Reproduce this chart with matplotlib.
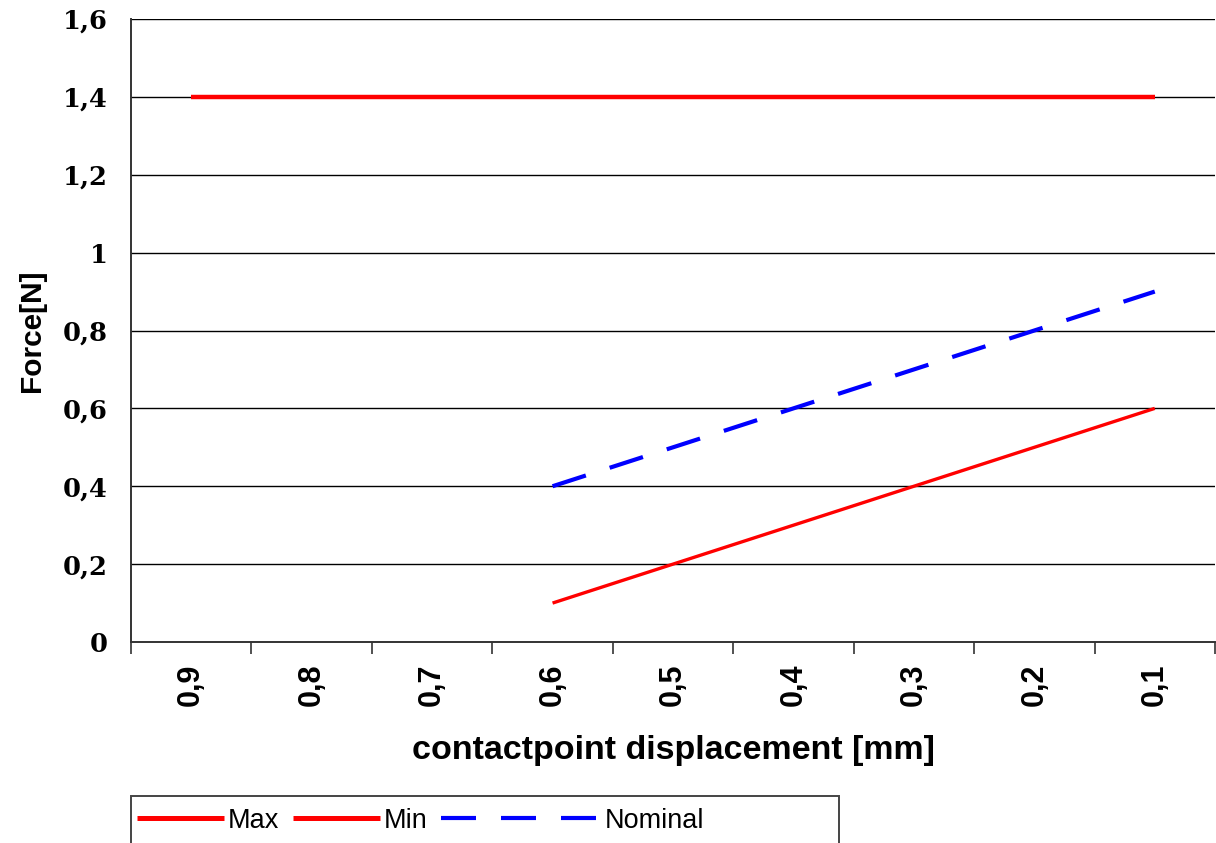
import matplotlib
matplotlib.use("Agg")
import matplotlib.pyplot as plt
from matplotlib.legend_handler import HandlerLine2D
from matplotlib.patches import Rectangle

# categories on the x axis (displacement in mm), shown with comma decimals
categories = ["0,9", "0,8", "0,7", "0,6", "0,5", "0,4", "0,3", "0,2", "0,1"]

# force values [N]; None where the series has no point
max_force = [1.4, 1.4, 1.4, 1.4, 1.4, 1.4, 1.4, 1.4, 1.4]
min_force = [None, None, None, 0.1, 0.2, 0.3, 0.4, 0.5, 0.6]
nominal_force = [None, None, None, 0.4, 0.5, 0.6, 0.7, 0.8, 0.9]

y_ticks = [0, 0.2, 0.4, 0.6, 0.8, 1.0, 1.2, 1.4, 1.6]
y_tick_labels = ["0", "0,2", "0,4", "0,6", "0,8", "1", "1,2", "1,4", "1,6"]

W, H = 1216, 843


def to_xy(values):
    xs = [i for i, v in enumerate(values) if v is not None]
    ys = [v for v in values if v is not None]
    return xs, ys


# the Excel-style legend draws the dashed sample wider than the solid ones
class WideHandler(HandlerLine2D):
    def legend_artist(self, legend, orig_handle, fontsize, handlebox):
        handlebox.width = handlebox.width * 1.83
        return super().legend_artist(legend, orig_handle, fontsize, handlebox)


fig = plt.figure(figsize=(W / 100, H / 100), dpi=100)
ax = fig.add_axes([131 / W, 201 / H, 1084 / W, 623 / H])

x, y = to_xy(max_force)
l_max, = ax.plot(x, y, color="#ff0000", lw=3.2, label="Max", solid_capstyle="butt")
x, y = to_xy(min_force)
l_min, = ax.plot(x, y, color="#ff0000", lw=2.4, label="Min", solid_capstyle="butt")
x, y = to_xy(nominal_force)
l_nom, = ax.plot(x, y, color="#0000ff", lw=3.0, label="Nominal", dashes=(8.4, 6))

ax.set_xlim(-0.5, len(categories) - 0.5)
ax.set_ylim(0, 1.6)

# gridlines at each major y tick, drawn under the lines
ax.set_yticks(y_ticks)
ax.set_yticklabels(y_tick_labels, fontfamily="DejaVu Serif", fontweight="bold", fontsize=18.5)
ax.yaxis.grid(True, color="black", lw=1.0)
ax.set_axisbelow(True)
ax.tick_params(axis="y", length=0, pad=17)

# category boundaries get the tick marks, labels sit in the middle
ax.set_xticks([i - 0.5 for i in range(len(categories) + 1)])
ax.set_xticklabels([])
ax.set_xticks(range(len(categories)), minor=True)
ax.set_xticklabels(categories, minor=True)
ax.tick_params(axis="x", which="major", length=8.5, width=1.2, color="#333333", direction="out")
ax.tick_params(axis="x", which="minor", length=0, pad=15.5, labelsize=22, labelrotation=90)
for lab in ax.get_xticklabels(minor=True):
    lab.set_fontfamily("Liberation Sans")
    lab.set_fontweight("bold")
    lab.set_fontsize(22)

for side in ["top", "right"]:
    ax.spines[side].set_visible(False)
for side in ["left", "bottom"]:
    ax.spines[side].set_color("#333333")
    ax.spines[side].set_linewidth(1.4)

ax.set_xlabel("contactpoint displacement [mm]", fontfamily="Liberation Sans",
              fontweight="bold", fontsize=24.5, labelpad=21)
ax.set_ylabel("Force[N]", fontfamily="Liberation Sans", fontweight="bold",
              fontsize=21.5, labelpad=12)

# legend box runs past the bottom edge of the picture, as in the original
fig.patches.append(Rectangle((131 / W, -0.05), 708 / W, 1.05 - 796 / H,
                             transform=fig.transFigure, facecolor="white",
                             edgecolor="#444444", lw=1.4, clip_on=False))

handlers = {l_max: HandlerLine2D(marker_pad=0.1), l_min: HandlerLine2D(marker_pad=0.1),
            l_nom: WideHandler(marker_pad=0.1)}
leg = fig.legend(handles=[l_max, l_min, l_nom], loc="upper left",
                 bbox_to_anchor=(131 / W, 1 - 802 / H), ncol=3,
                 prop={"family": "Liberation Sans", "size": 19.5}, frameon=False,
                 handlelength=3.23, handletextpad=0.14,
                 columnspacing=0.49, borderpad=0.22, borderaxespad=0,
                 handler_map=handlers)
leg_lines = leg.get_lines()
leg_lines[0].set_linewidth(3.6)
leg_lines[1].set_linewidth(3.6)
leg_lines[2].set_linewidth(3.0)

fig.savefig("out.png", dpi=100)
